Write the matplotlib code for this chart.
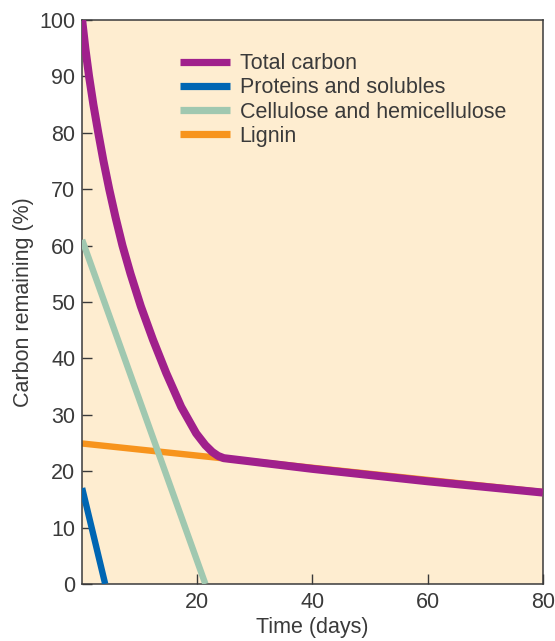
import matplotlib.pyplot as plt
from matplotlib.lines import Line2D

# values
total_days = [0, 0.55, 1.2, 1.95, 2.8, 3.7, 4.7, 5.8, 7.0, 8.4, 10.2, 12.3,
              14.6, 17.2, 19.8, 21.4, 22.6, 23.6, 24.6, 40, 60, 80]
total_carbon = [100, 95, 90, 85, 80, 75, 70, 65, 60, 55, 49.2, 43.3,
                37.4, 31.4, 26.7, 24.6, 23.4, 22.7, 22.3, 20.4, 18.2, 16.2]

protein_days = [0, 4.0]
proteins = [17, 0]

cellulose_days = [0, 21.4]
cellulose = [61, 0]

lignin_days = [0, 80]
lignin = [24.9, 16.3]

labels = ['Total carbon', 'Proteins and solubles',
          'Cellulose and hemicellulose', 'Lignin']
colors = ['#a0208c', '#0066b3', '#a0c8b0', '#f7941d']

text_color = '#3a3a3a'
plt.rcParams['font.family'] = ['Liberation Sans', 'DejaVu Sans']

fig = plt.figure(figsize=(5.55, 6.41), dpi=100)
ax = fig.add_axes([0.148, 0.089, 0.83, 0.88])
ax.set_facecolor('#feedd0')

ax.plot(lignin_days, lignin, color=colors[3], lw=4.6, solid_capstyle='butt', zorder=2)
ax.plot(cellulose_days, cellulose, color=colors[2], lw=4.6, solid_capstyle='butt', zorder=3)
ax.plot(protein_days, proteins, color=colors[1], lw=4.6, solid_capstyle='butt', zorder=3)
ax.plot(total_days, total_carbon, color=colors[0], lw=5.8, solid_capstyle='butt',
        solid_joinstyle='round', zorder=4)

ax.set_xlim(0, 80)
ax.set_ylim(0, 100)
ax.set_xticks([20, 40, 60, 80])
ax.set_yticks(range(0, 101, 10))
ax.tick_params(direction='in', length=7.2, width=1.0, color=text_color,
               labelsize=15.5, labelcolor=text_color)
ax.tick_params(axis='y', pad=5)
ax.tick_params(axis='x', pad=6)
for s in ax.spines.values():
    s.set_color(text_color)
    s.set_linewidth(1.1)

ax.set_xlabel('Time (days)', fontsize=15.5, color=text_color, labelpad=3)
ax.set_ylabel('Carbon remaining (%)', fontsize=15.5, color=text_color, labelpad=4)

handles = [Line2D([], [], color=c, lw=5.2, solid_capstyle='butt') for c in colors]
ax.legend(handles, labels, loc='upper left', bbox_to_anchor=(0.212, 0.941),
          frameon=False, fontsize=15.5, handlelength=2.33, handletextpad=0.45,
          labelspacing=0.15, borderpad=0, borderaxespad=0, labelcolor=text_color)

fig.savefig('out.png', dpi=100)
